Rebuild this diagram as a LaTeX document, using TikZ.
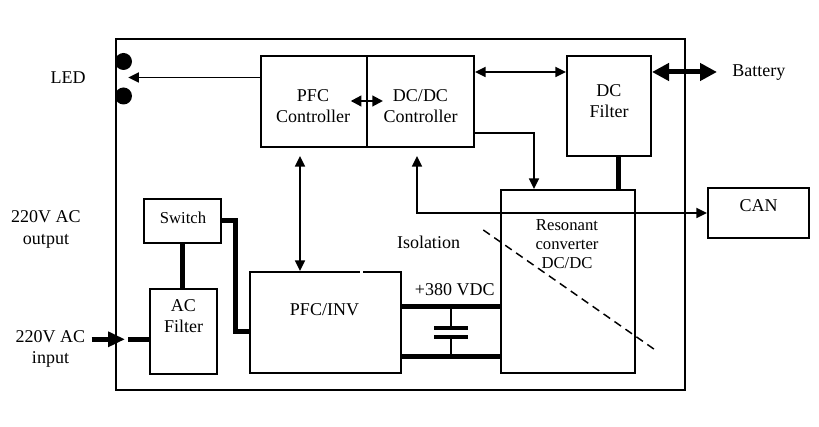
\documentclass[tikz,border=0pt]{standalone}
\usepackage{fontspec}
\setmainfont{Liberation Serif}
\usetikzlibrary{positioning,fit,arrows.meta}

\begin{document}
\begin{tikzpicture}[x=0.75pt,y=0.75pt,yscale=-1,xscale=1,
  box/.style={draw,line width=1.5pt,inner sep=0pt},
  txt/.style={inner sep=0.75pt,align=center,font=\fontsize{13.5}{16}\selectfont},
  small/.style={inner sep=0.75pt,align=center,font=\fontsize{12.5}{14}\selectfont},
  dot/.style={circle,fill,inner sep=0pt,minimum size=12.75pt},
  arr/.style={line width=1.3pt,-{Triangle[length=8pt,width=7.5pt]}},
  darr/.style={line width=1.3pt,{Triangle[length=8pt,width=7.5pt]}-{Triangle[length=8pt,width=7.5pt]}},
  heavy/.style={line width=3.75pt},
  ]
\useasboundingbox (0,0) rectangle (819,427);

%Shape: Rectangle [frame]
\node[box,fit={(116,39) (685,390)}] (frame) {};
%Shape: Rectangle [PFC controller]
\node[box,fit={(261,56) (367,147)}] (pfcc) {};
%Shape: Rectangle [DC/DC controller]
\node[box,fit={(367,56) (474,147)}] (dcc) {};
%Shape: Rectangle [DC filter]
\node[box,fit={(567,56) (651,156)}] (dcf) {};
%Shape: Rectangle [resonant converter]
\node[box,fit={(501,190) (635,373)}] (res) {};
%Shape: Rectangle [CAN]
\node[box,fit={(708,188) (809,238)}] (can) {};
%Shape: Rectangle [switch]
\node[box,fit={(144,199) (221,243)}] (sw) {};
%Shape: Rectangle [AC filter]
\node[box,fit={(150,289) (217,374)}] (acf) {};
%Shape: Rectangle [PFC/INV]
\node[box,fit={(250,272) (401,373)}] (pfcinv) {};
\draw[white,line width=2pt] (360,272) -- (362.5,272);

%Shape: Circle [LED]
\node[dot] (led1) at (123.5,61.5) {};
\node[dot] (led2) at (123.5,96) {};

% Text Node
\node[txt] (ledT) at (68,77.5) {LED};
% Text Node
\node[txt] (outT) at (46,229.5) {220V AC\\output};
% Text Node
\node[txt] (inT) at (50.5,349) {220V AC\\input};
% Text Node
\node[txt] (pfccT) at (313,106) {PFC\\Controller};
% Text Node
\node[txt] (dccT) at (420.5,106) {DC/DC\\Controller};
% Text Node
\node[txt] (dcfT) at (609,101) {DC\\Filter};
% Text Node
\node[txt] (acfT) at (183.5,316) {AC\\Filter};
% Text Node
\node[txt] (pfcinvT) at (324.5,309.5) {PFC/INV};
% Text Node
\node[small] (resT) at (567,244) {Resonant\\converter\\DC/DC};
% Text Node
\node[small] (swT) at (183,217.5) {Switch};
% Text Node
\node[txt] (canT) at (758.5,205.5) {CAN};
% Text Node
\node[txt,anchor=west] (batT) at (731,72.5) {Battery};
% Text Node
\node[txt] (isoT) at (428.5,242) {Isolation};
% Text Node
\node[txt] (vdcT) at (454.7,290) {+380 VDC};

% helper points
\coordinate (ctrlY) at (0,72);
\coordinate (ledIn) at (128.3,77.5);
\coordinate (linkL) at (350.7,101);
\coordinate (linkR) at (383,101);
\coordinate (batIn) at (717,72);
\coordinate (dcOut) at (534,133.3);
\coordinate (dcTap) at (618,0);
\coordinate (pfcX) at (300,0);
\coordinate (canX) at (417,0);
\coordinate (swBend) at (235,331.7);
\coordinate (inA) at (91.7,339.3);
\coordinate (inB) at (125,339.3);
\coordinate (inC) at (128,339.3);
\coordinate (busTop) at (0,306.7);
\coordinate (busBot) at (0,356.7);
\coordinate (capX) at (451,0);

%Straight Lines
\draw[arr] (pfcc.west |- ledIn) -- (ledIn);
\draw[line width=1.6pt,{Triangle[length=8pt,width=8pt]}-{Triangle[length=8pt,width=8pt]}] (linkL) -- (linkR);
\draw[darr] (dcc.east |- ctrlY) -- (dcf.west |- ctrlY);
\draw[heavy,{Triangle[length=12.75pt,width=12.75pt]}-{Triangle[length=12.75pt,width=12.75pt]}] (dcf.east |- ctrlY) -- (batIn);
\draw[arr] (dcc.east |- dcOut) -| (res.north -| dcOut);
\draw[heavy] (dcf.south -| dcTap) -- (res.north -| dcTap);
\draw[darr,shorten <=6pt] (dcc.south -| canX) |- (can.west);
\draw[darr,shorten <=6pt] (pfcc.south -| pfcX) -- (pfcinv.north -| pfcX);
\draw[heavy] (sw.south) -- (sw.south |- acf.north);
\draw[heavy] (sw.east) -| (swBend) -- (pfcinv.west |- swBend);
\draw[heavy,-{Triangle[length=12.75pt,width=11pt]}] (inA) -- (inB);
\draw[heavy] (inC) -- (acf.west |- inC);

% DC bus and capacitor
\draw[heavy] (pfcinv.east |- busTop) -- (res.west |- busTop);
\draw[heavy] (pfcinv.east |- busBot) -- (res.west |- busBot);
\draw[line width=1.5pt] (capX |- busTop) -- (451,327.7);
\draw[line width=1.5pt] (451,336.7) -- (capX |- busBot);
\draw[line width=3pt] (434,327.7) -- (467.7,327.7);
\draw[line width=3pt] (434,336.7) -- (467.7,336.7);

% isolation line
\draw[line width=1.1pt,dash pattern=on 6pt off 4pt] (483.3,230) -- (657.7,351.7);
\end{tikzpicture}
\end{document}
